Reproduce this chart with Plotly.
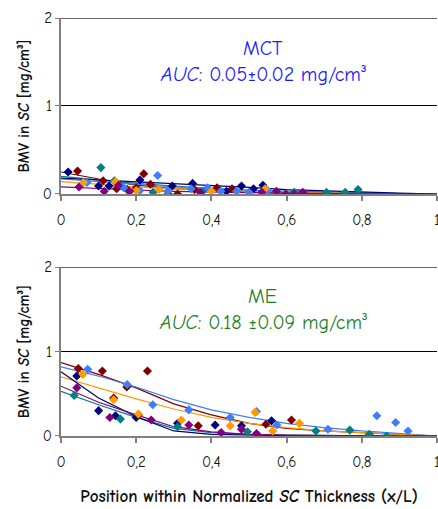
import plotly.graph_objects as go
from plotly.subplots import make_subplots

# ---------------- data: MCT (top panel) ----------------
mct_navy_x = [0.019, 0.10, 0.128, 0.21, 0.296, 0.35, 0.44, 0.48, 0.512, 0.537]
mct_navy_y = [0.25, 0.09, 0.09, 0.16, 0.09, 0.12, 0.03, 0.09, 0.06, 0.10]
mct_red_x = [0.044, 0.112, 0.148, 0.176, 0.20, 0.22, 0.238, 0.285, 0.31, 0.355, 0.415, 0.455]
mct_red_y = [0.26, 0.15, 0.06, 0.05, 0.07, 0.23, 0.11, 0.0, 0.0, 0.05, 0.07, 0.06]
mct_teal_x = [0.106, 0.142, 0.245, 0.377, 0.62, 0.706, 0.756, 0.79]
mct_teal_y = [0.30, 0.15, 0.02, 0.03, 0.02, 0.02, 0.02, 0.05]
mct_blue_x = [0.069, 0.167, 0.21, 0.257, 0.284, 0.346, 0.39, 0.425, 0.467, 0.50, 0.55]
mct_blue_y = [0.13, 0.07, 0.04, 0.21, 0.03, 0.06, 0.07, 0.03, 0.03, 0.02, 0.04]
mct_orange_x = [0.06, 0.145, 0.20, 0.26, 0.40, 0.543]
mct_orange_y = [0.13, 0.14, 0.04, 0.05, 0.03, 0.06]
mct_purple_x = [0.048, 0.115, 0.153, 0.183, 0.37, 0.534, 0.573, 0.598, 0.62, 0.643]
mct_purple_y = [0.08, 0.03, 0.10, 0.03, 0.02, 0.02, 0.03, 0.0, 0.0, 0.02]

# fitted curves (top)
mct_fit_x = [0.0, 0.1, 0.2, 0.3, 0.4, 0.5, 0.6, 0.7, 0.8, 0.9, 1.0]
mct_fit_navy = [0.18, 0.16, 0.14, 0.12, 0.10, 0.075, 0.05, 0.035, 0.02, 0.01, 0.0]
mct_fit_red = [0.25, 0.17, 0.10, 0.06, 0.04, 0.02, 0.01, 0.005, 0.0, 0.0, 0.0]
mct_fit_teal = [0.20, 0.16, 0.12, 0.09, 0.06, 0.04, 0.03, 0.02, 0.01, 0.005, 0.0]
mct_fit_blue = [0.17, 0.14, 0.11, 0.08, 0.06, 0.04, 0.025, 0.015, 0.01, 0.005, 0.0]
mct_fit_orange = [0.14, 0.11, 0.08, 0.06, 0.04, 0.03, 0.02, 0.01, 0.005, 0.0, 0.0]
mct_fit_purple = [0.08, 0.06, 0.045, 0.03, 0.02, 0.015, 0.01, 0.005, 0.0, 0.0, 0.0]

# ---------------- data: ME (bottom panel) ----------------
me_navy_x = [0.042, 0.10, 0.145, 0.20, 0.31, 0.41, 0.48, 0.56]
me_navy_y = [0.71, 0.30, 0.24, 0.22, 0.15, 0.13, 0.12, 0.18]
me_red_x = [0.046, 0.11, 0.23, 0.175, 0.14, 0.206, 0.365, 0.545, 0.613]
me_red_y = [0.80, 0.77, 0.77, 0.58, 0.45, 0.25, 0.12, 0.14, 0.19]
me_teal_x = [0.035, 0.158, 0.31, 0.496, 0.678, 0.768, 0.82, 0.866]
me_teal_y = [0.48, 0.20, 0.11, 0.05, 0.06, 0.07, 0.02, 0.0]
me_blue_x = [0.071, 0.176, 0.244, 0.34, 0.45, 0.52, 0.574, 0.71, 0.84, 0.89, 0.923]
me_blue_y = [0.79, 0.61, 0.37, 0.31, 0.22, 0.29, 0.13, 0.08, 0.24, 0.16, 0.06]
me_orange_x = [0.058, 0.14, 0.206, 0.32, 0.45, 0.516, 0.563, 0.634]
me_orange_y = [0.73, 0.43, 0.26, 0.19, 0.12, 0.28, 0.06, 0.15]
me_purple_x = [0.042, 0.13, 0.24, 0.34, 0.426, 0.48, 0.52]
me_purple_y = [0.57, 0.22, 0.19, 0.13, 0.04, 0.08, 0.03]

me_fit_x = [0.0, 0.1, 0.2, 0.3, 0.4, 0.5, 0.6, 0.7, 0.8, 0.9, 1.0]
me_fit_navy = [0.76, 0.45, 0.23, 0.06, 0.02, 0.01, 0.005, 0.0, 0.0, 0.0, 0.0]
me_fit_red = [0.87, 0.73, 0.57, 0.38, 0.25, 0.15, 0.09, 0.06, 0.04, 0.02, 0.0]
me_fit_teal = [0.53, 0.37, 0.22, 0.09, 0.04, 0.02, 0.01, 0.005, 0.0, 0.0, 0.0]
me_fit_blue = [0.82, 0.71, 0.58, 0.43, 0.31, 0.22, 0.15, 0.10, 0.06, 0.03, 0.0]
me_fit_orange = [0.70, 0.57, 0.44, 0.32, 0.22, 0.15, 0.10, 0.06, 0.04, 0.02, 0.0]
me_fit_purple = [0.59, 0.40, 0.25, 0.11, 0.05, 0.02, 0.01, 0.005, 0.0, 0.0, 0.0]

x_tickvals = [0, 0.2, 0.4, 0.6, 0.8, 1]
y_tickvals = [0, 1, 2]

NAVY = "#000080"
RED = "#800000"
TEAL = "#008080"
BLUE = "#3d7dff"
ORANGE = "#ff9a00"
PURPLE = "#800080"

FONT = "Comic Sans MS, Comic Neue, DejaVu Sans, sans-serif"

fig = make_subplots(rows=2, cols=1, vertical_spacing=0.0)

def add_panel(row, fx, fits, pts):
    for color, fy in fits:
        fig.add_trace(go.Scatter(x=fx, y=fy, mode="lines",
                                 line=dict(color=color, width=1.2),
                                 showlegend=False, hoverinfo="skip"), row=row, col=1)
    for color, px, py in pts:
        fig.add_trace(go.Scatter(x=px, y=py, mode="markers",
                                 marker=dict(symbol="diamond", size=7, color=color),
                                 showlegend=False), row=row, col=1)

add_panel(1, mct_fit_x,
          [(RED, mct_fit_red), (TEAL, mct_fit_teal), (BLUE, mct_fit_blue),
           (ORANGE, mct_fit_orange), (NAVY, mct_fit_navy), (PURPLE, mct_fit_purple)],
          [(NAVY, mct_navy_x, mct_navy_y), (RED, mct_red_x, mct_red_y),
           (TEAL, mct_teal_x, mct_teal_y), (BLUE, mct_blue_x, mct_blue_y),
           (ORANGE, mct_orange_x, mct_orange_y), (PURPLE, mct_purple_x, mct_purple_y)])
add_panel(2, me_fit_x,
          [(RED, me_fit_red), (TEAL, me_fit_teal), (BLUE, me_fit_blue),
           (ORANGE, me_fit_orange), (NAVY, me_fit_navy), (PURPLE, me_fit_purple)],
          [(NAVY, me_navy_x, me_navy_y), (RED, me_red_x, me_red_y),
           (TEAL, me_teal_x, me_teal_y), (BLUE, me_blue_x, me_blue_y),
           (ORANGE, me_orange_x, me_orange_y), (PURPLE, me_purple_x, me_purple_y)])

xaxis_common = dict(range=[0, 1], tickvals=x_tickvals, showgrid=False, zeroline=False,
                    showline=True, linecolor="#808080", linewidth=2, automargin=False,
                    ticks="outside", ticklen=5, tickcolor="#808080", tickwidth=1.5,
                    tickfont=dict(family=FONT, size=15, color="#111"),
                    ticklabelstandoff=6, ticklabeloverflow="allow")
yaxis_common = dict(range=[0, 2], tickvals=y_tickvals, showgrid=True, gridcolor="#000",
                    gridwidth=1, zeroline=False, showline=True, linecolor="#808080",
                    linewidth=2, ticks="outside", ticklen=4, tickcolor="#808080",
                    automargin=False,
                    tickfont=dict(family=FONT, size=15, color="#111"),
                    title=dict(text="<b>BMV in <i>SC</i> [mg/cm³]</b>",
                               font=dict(family=FONT, size=15, color="#111", weight=700),
                               standoff=10))

fig.update_xaxes(**xaxis_common)
fig.update_yaxes(**yaxis_common)
fig.update_layout(
    xaxis=dict(domain=[0, 1], anchor="y"),
    yaxis=dict(domain=[0.579, 1.0]),
    xaxis2=dict(domain=[0, 1], anchor="y2",
                title=dict(text="<b>Position within Normalized <i>SC</i> Thickness (x/L)</b>",
                           font=dict(family=FONT, size=17, color="#111", weight=700),
                           standoff=20)),
    yaxis2=dict(domain=[0.0, 0.404]),
)

# top border lines at y=2
for yr in ["y", "y2"]:
    fig.add_shape(type="line", xref="x domain" if yr == "y" else "x2 domain", yref=yr,
                  x0=0, x1=1, y0=2, y1=2, line=dict(color="#333", width=1.5))

ann_font_top = dict(family=FONT, size=20, color="#1a1aff")
ann_font_bot = dict(family=FONT, size=20, color="#1f7f1f")
fig.add_annotation(text="MCT", xref="x domain", yref="y domain", x=0.537, y=0.905,
                   showarrow=False, font=ann_font_top)
fig.add_annotation(text="<i>AUC</i>: 0.05±0.02 mg/cm³", xref="x domain", yref="y domain",
                   x=0.537, y=0.755, showarrow=False, font=ann_font_top)
fig.add_annotation(text="ME", xref="x2 domain", yref="y2 domain", x=0.537, y=0.905,
                   showarrow=False, font=ann_font_bot)
fig.add_annotation(text="<i>AUC</i>: 0.18 ±0.09 mg/cm³", xref="x2 domain", yref="y2 domain",
                   x=0.537, y=0.755, showarrow=False, font=ann_font_bot)

fig.update_layout(width=438, height=509, margin=dict(l=61, r=1, t=18, b=73),
                  plot_bgcolor="white", paper_bgcolor="white", separators=", ",
                  showlegend=False, font=dict(family=FONT))

fig.write_html("out.html", config={"displayModeBar": False},
               post_script="document.body.style.margin='0';document.body.style.overflow='hidden';")
